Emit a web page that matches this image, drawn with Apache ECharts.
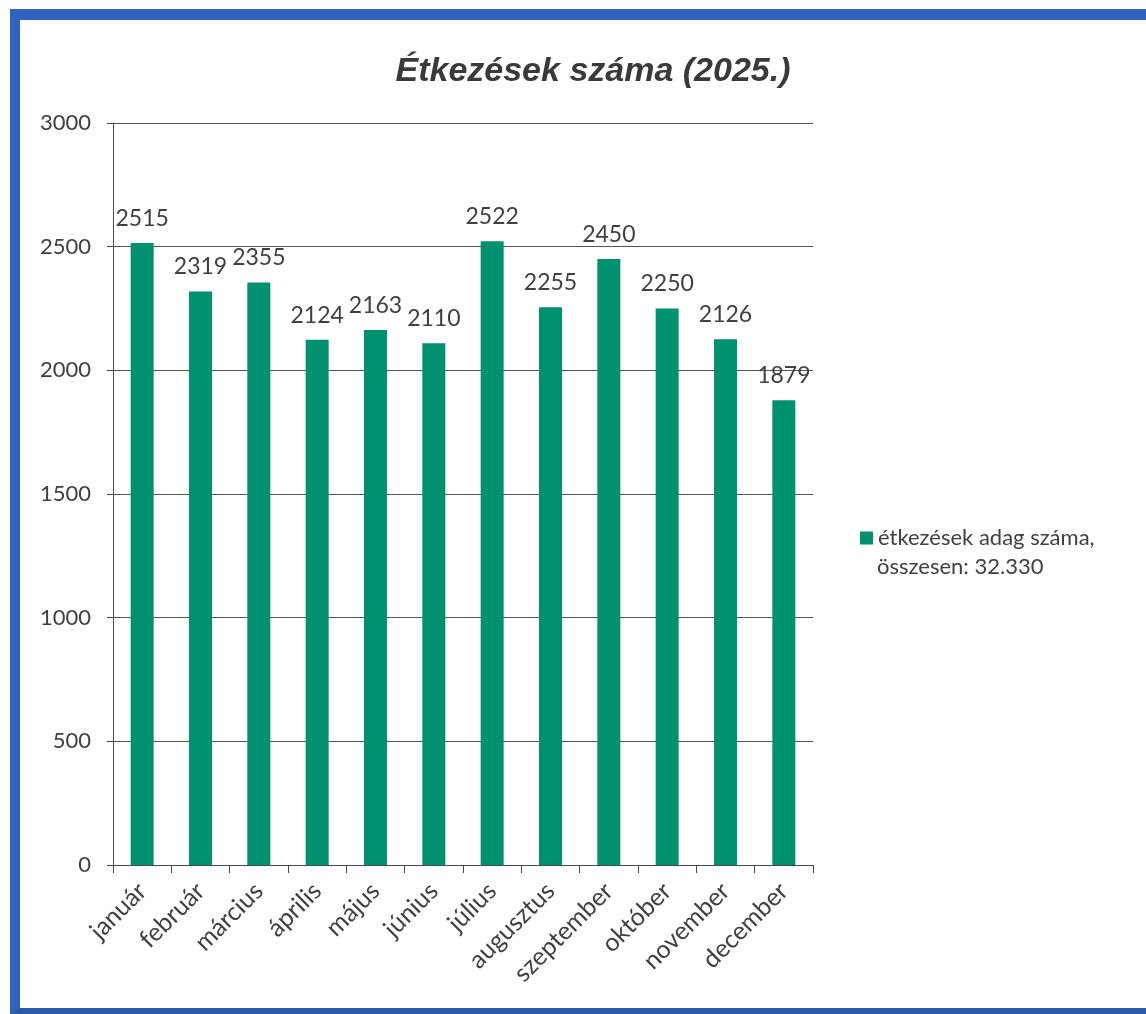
<!DOCTYPE html>
<html>
<head>
<meta charset="utf-8">
<script src="https://cdn.jsdelivr.net/npm/echarts@6/dist/echarts.min.js"></script>
<style>
  body { margin: 0; background: #fff; }
  #wrap { position: relative; width: 1146px; height: 1014px; }
  #chart { width: 1146px; height: 1014px; }
  /* scanned page frame */
  #frame {
    position: absolute; left: 10px; top: 9px; right: -20px; bottom: 0;
    border-top: 11px solid #2f63bd; border-left: 10px solid #2f63bd;
    border-bottom: 6px solid #2a5aa8; pointer-events: none;
  }
</style>
</head>
<body>
<div id="wrap">
  <div id="chart"></div>
  <div id="frame"></div>
</div>
<script>
// months
var months = ['január', 'február', 'március', 'április', 'május', 'június',
    'július', 'augusztus', 'szeptember', 'október', 'november', 'december'];
// portions per month
var meals = [2515, 2319, 2355, 2124, 2163, 2110, 2522, 2255, 2450, 2250, 2126, 1879];
var yTicks = [0, 500, 1000, 1500, 2000, 2500, 3000];
var seriesName = 'étkezések adag száma,';
var totalText = 'összesen: 32.330';

var myChart = echarts.init(document.getElementById('chart'));
var font = 'Lato, "Open Sans", sans-serif';

var option = {
    animation: false,
    backgroundColor: '#fff',
    title: {
        text: 'Étkezések száma (2025.)',
        left: 588,
        top: 50,
        textAlign: 'center',
        textStyle: {
            fontFamily: '"Liberation Sans", Arial, sans-serif',
            fontSize: 34,
            fontWeight: 'bold',
            fontStyle: 'italic',
            color: '#3a3a3a'
        }
    },
    legend: {
        data: [seriesName],
        left: 855,
        top: 522,
        itemWidth: 13,
        itemHeight: 13,
        icon: 'rect',
        textStyle: {
            fontFamily: font,
            fontSize: 22,
            color: '#404040'
        }
    },
    graphic: [{
        type: 'text',
        left: 877,
        top: 556,
        style: {
            text: totalText,
            font: '22px ' + font,
            fill: '#404040'
        }
    }],
    grid: {
        left: 113,
        right: 333,
        top: 123,
        bottom: 149,
        containLabel: false
    },
    xAxis: {
        type: 'category',
        data: months,
        axisLine: { lineStyle: { color: '#4a4a4a', width: 1 } },
        axisTick: { show: true, length: 8, lineStyle: { color: '#4a4a4a' } },
        axisLabel: {
            rotate: 45,
            fontFamily: font,
            fontSize: 25,
            color: '#404040',
            margin: 22,
            interval: 0
        }
    },
    yAxis: {
        type: 'value',
        min: yTicks[0],
        max: yTicks[yTicks.length - 1],
        interval: 500,
        axisLine: { show: true, lineStyle: { color: '#4a4a4a', width: 1 } },
        axisTick: { show: true, length: 6, lineStyle: { color: '#4a4a4a' } },
        axisLabel: {
            fontFamily: font,
            fontSize: 22,
            color: '#404040',
            margin: 22,
            formatter: function (v) { return String(v); }
        },
        splitLine: { lineStyle: { color: '#555', width: 1 } }
    },
    series: [{
        name: seriesName,
        type: 'bar',
        data: meals,
        barWidth: 23,
        itemStyle: { color: '#00916e' },
        label: {
            show: true,
            position: 'top',
            distance: 13,
            fontFamily: font,
            fontSize: 23,
            color: '#404040'
        }
    }]
};

myChart.setOption(option);
</script>
</body>
</html>
